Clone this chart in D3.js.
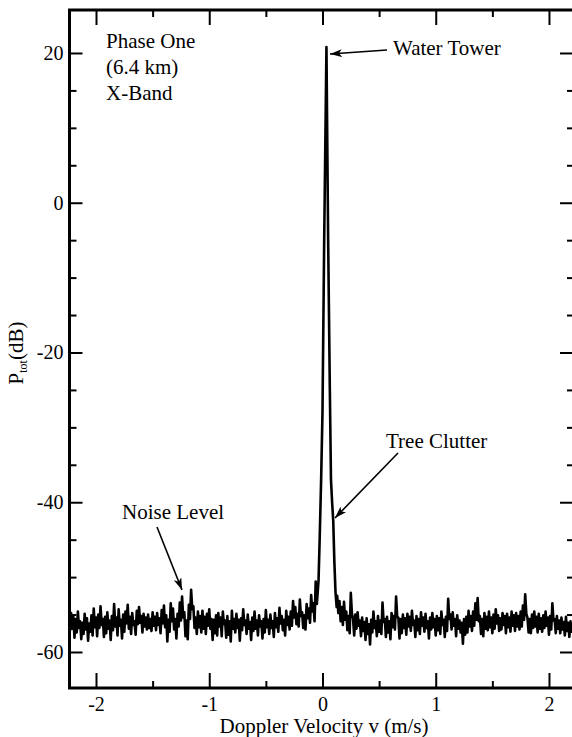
<!DOCTYPE html>
<html>
<head>
<meta charset="utf-8">
<script src="https://cdn.jsdelivr.net/npm/d3@7/dist/d3.min.js"></script>
<style>
  html, body { margin: 0; padding: 0; background: #fff; }
  svg { display: block; }
  text { font-family: "Liberation Serif", "Tinos", "Times New Roman", Times, serif; fill: #000; }
</style>
</head>
<body>
<svg id="chart" width="572" height="737"></svg>
<script>
// ---- data ----
// left noise floor: velocities -2.24 .. -0.05, step 0.01
const leftNoiseStart = -2.24;
const leftNoise = [
  -55.0,-57.2,-54.8,-56.9,-55.3,-58.1,-55.6,-57.4,-54.6,-56.8,-55.9,-58.3,-56.1,-57.6,-54.9,-57.0,-55.5,-58.5,-56.2,-57.3,
  -55.1,-57.8,-54.2,-56.7,-55.4,-57.9,-55.0,-56.8,-53.9,-56.4,-55.6,-58.0,-55.3,-57.5,-54.7,-56.9,-55.8,-58.4,-55.2,-57.1,
  -53.6,-56.6,-55.4,-57.8,-54.3,-56.5,-55.7,-58.2,-55.0,-57.3,-54.6,-56.2,-53.7,-56.9,-55.3,-57.6,-54.8,-56.4,-55.9,-57.7,
  -54.5,-56.3,-54.0,-56.1,-55.2,-57.4,-54.9,-56.6,-55.4,-57.0,-55.0,-56.8,-55.6,-57.2,-54.7,-56.5,-55.3,-57.1,-54.8,-56.4,
  -55.5,-57.5,-54.4,-56.2,-53.8,-56.7,-55.1,-58.6,-55.7,-57.3,-53.5,-55.9,-54.2,-57.0,-55.6,-58.2,-54.9,-56.6,-53.4,-55.8,
  -52.6,-55.4,-54.7,-57.9,-55.8,-58.3,-53.7,-55.6,-51.7,-54.3,-53.9,-56.8,-55.4,-57.6,-54.6,-56.7,-55.2,-57.4,-54.5,-56.9,
  -55.3,-57.6,-54.9,-56.5,-54.3,-56.9,-55.6,-58.4,-55.7,-57.5,-55.1,-57.8,-54.8,-56.6,-55.4,-57.9,-54.6,-56.3,-55.8,-58.1,
  -55.2,-57.7,-55.9,-58.6,-54.5,-56.9,-55.6,-57.4,-54.9,-56.8,-55.7,-58.5,-55.5,-57.1,-54.3,-56.4,-55.8,-57.6,-55.0,-56.9,
  -56.0,-58.4,-55.4,-57.2,-54.6,-56.9,-55.8,-57.8,-55.1,-56.6,-55.9,-58.2,-55.6,-57.4,-54.4,-56.7,-55.7,-57.6,-55.0,-56.8,
  -55.9,-58.0,-54.8,-56.7,-55.5,-57.3,-54.1,-56.2,-55.2,-57.1,-55.7,-57.8,-54.5,-56.4,-55.3,-57.0,-54.6,-56.5,-53.2,-55.4,
  -54.0,-56.3,-54.9,-56.6,-53.0,-55.2,-54.7,-56.8,-55.1,-57.0,-53.6,-55.5,-54.2,-56.1,-52.4,-54.6,-53.5,-55.9,-50.6,-53.6
];
// central peak (water tower + tree clutter): velocity and dB
const peakV = [-0.035,-0.025,-0.012,0.000,0.015,0.035,0.050,0.065,0.075,0.085,0.095,0.105,0.115,0.125];
const peakP = [-50.5,-45.0,-37.0,-28.0,-5.0,20.8,-5.0,-25.0,-37.0,-40.0,-42.5,-48.0,-52.0,-54.0];
// right noise floor: velocities 0.13 .. 2.21, step 0.01
const rightNoiseStart = 0.13;
const rightNoise = [
  -52.5,-54.8,-53.2,-55.9,-54.0,-56.4,-53.3,-55.7,-54.6,-57.1,-55.2,-57.5,-52.1,-54.9,-55.6,-57.8,-55.0,-56.9,-54.7,-56.5,
  -55.8,-57.9,-55.4,-57.2,-56.0,-58.4,-55.5,-57.6,-56.3,-59.0,-55.7,-57.4,-54.6,-56.8,-55.9,-57.9,-55.2,-57.3,-55.8,-57.6,
  -53.4,-56.0,-55.6,-58.0,-55.3,-57.4,-55.9,-58.3,-54.8,-56.7,-55.2,-57.0,-52.6,-55.3,-55.4,-58.2,-55.6,-57.5,-55.0,-56.8,
  -55.5,-57.7,-54.9,-56.6,-55.3,-57.2,-54.5,-56.4,-55.8,-58.0,-55.2,-57.1,-55.6,-57.6,-54.7,-56.5,-55.4,-57.3,-54.9,-56.8,
  -55.9,-58.2,-55.4,-57.0,-54.8,-56.7,-55.6,-57.8,-55.2,-57.1,-55.5,-57.6,-54.6,-56.4,-55.7,-58.0,-55.3,-57.2,-52.9,-55.6,
  -55.0,-57.0,-54.7,-56.5,-55.6,-57.9,-55.1,-56.9,-55.8,-57.4,-56.1,-58.9,-55.6,-57.7,-55.3,-57.4,-54.5,-56.6,-55.2,-57.2,
  -54.6,-56.5,-53.5,-55.7,-52.8,-55.9,-55.2,-57.6,-55.6,-57.9,-54.8,-56.9,-55.3,-57.1,-54.6,-56.7,-55.4,-57.5,-55.0,-56.9,
  -54.3,-56.2,-55.1,-57.2,-55.5,-57.0,-54.8,-56.4,-55.2,-57.5,-54.9,-56.7,-55.4,-57.3,-54.6,-56.5,-55.1,-57.2,-54.8,-56.6,
  -55.2,-57.0,-54.6,-56.6,-53.8,-55.7,-52.3,-54.9,-55.4,-57.4,-55.6,-57.5,-55.0,-56.8,-54.6,-56.6,-55.3,-57.4,-54.9,-56.9,
  -55.5,-57.3,-55.1,-56.8,-54.6,-56.5,-55.4,-57.7,-55.2,-57.0,-53.5,-55.8,-55.6,-57.5,-55.2,-56.9,-55.8,-57.5,-55.4,-57.0,
  -56.0,-57.8,-55.3,-57.2,-56.1,-58.0,-55.9,-57.3,-56.4
];
const noiseStep = 0.01;

const xMajor = [-2, -1, 0, 1, 2];
const xMinor = [-1.5, -0.5, 0.5, 1.5];
const yMajor = [20, 0, -20, -40, -60];
const yMinor = [15, 10, 5, -5, -10, -15, -25, -30, -35, -45, -50, -55];

const infoLines = ["Phase One", "(6.4 km)", "X-Band"];
const xTitle = "Doppler Velocity v (m/s)";

// ---- build series ----
const series = [];
leftNoise.forEach((p, i) => series.push([leftNoiseStart + i * noiseStep, p]));
peakV.forEach((v, i) => series.push([v, peakP[i]]));
rightNoise.forEach((p, i) => series.push([rightNoiseStart + i * noiseStep, p]));

// ---- layout ----
const svg = d3.select("#chart");
const L = 69.5, R = 574, T = 10, B = 688;
const x = d3.scaleLinear().domain([-2.234, 2.221]).range([L, R]);
const y = d3.scaleLinear().domain([25.74, -64.81]).range([T, B]);
const fmt = d => String(d);

svg.append("clipPath").attr("id", "clip")
  .append("rect").attr("x", L).attr("y", T).attr("width", R - L).attr("height", B - T);

// data line
svg.append("path")
  .datum(series)
  .attr("clip-path", "url(#clip)")
  .attr("fill", "none")
  .attr("stroke", "#000")
  .attr("stroke-width", 2.6)
  .attr("stroke-linejoin", "round")
  .attr("d", d3.line().x(d => x(d[0])).y(d => y(d[1])));

function styleAxis(g) {
  g.attr("font-family", null).attr("font-size", null);
  g.select(".domain").remove();
  g.selectAll(".tick line").attr("stroke", "#000").attr("stroke-width", 2);
  g.selectAll(".tick text").attr("font-size", 20);
}

// bottom axis
svg.append("g").attr("transform", `translate(0,${B})`)
  .call(d3.axisBottom(x).tickValues(xMajor).tickSize(-15).tickPadding(9).tickFormat(fmt))
  .call(styleAxis);
svg.append("g").attr("transform", `translate(0,${B})`)
  .call(d3.axisBottom(x).tickValues(xMinor).tickSize(-7).tickFormat(""))
  .call(styleAxis);
// top axis
svg.append("g").attr("transform", `translate(0,${T})`)
  .call(d3.axisTop(x).tickValues(xMajor).tickSize(-15).tickFormat(""))
  .call(styleAxis);
svg.append("g").attr("transform", `translate(0,${T})`)
  .call(d3.axisTop(x).tickValues(xMinor).tickSize(-7).tickFormat(""))
  .call(styleAxis);
// left axis
svg.append("g").attr("transform", `translate(${L},0)`)
  .call(d3.axisLeft(y).tickValues(yMajor).tickSize(-13).tickPadding(6).tickFormat(fmt))
  .call(styleAxis);
svg.append("g").attr("transform", `translate(${L},0)`)
  .call(d3.axisLeft(y).tickValues(yMinor).tickSize(-7).tickFormat(""))
  .call(styleAxis);
// right axis
svg.append("g").attr("transform", `translate(${R},0)`)
  .call(d3.axisRight(y).tickValues(yMajor).tickSize(-14).tickFormat(""))
  .call(styleAxis);
svg.append("g").attr("transform", `translate(${R},0)`)
  .call(d3.axisRight(y).tickValues(yMinor).tickSize(-7).tickFormat(""))
  .call(styleAxis);

// frame
svg.append("rect").attr("x", L).attr("y", T).attr("width", R - L).attr("height", B - T)
  .attr("fill", "none").attr("stroke", "#000").attr("stroke-width", 3);

// axis titles
svg.append("text").attr("x", 324).attr("y", 733).attr("text-anchor", "middle")
  .attr("font-size", 21).text(xTitle);
const yt = svg.append("text").attr("transform", "translate(23,353) rotate(-90)")
  .attr("text-anchor", "middle").attr("font-size", 21);
yt.append("tspan").text("P");
yt.append("tspan").attr("font-size", 12).attr("dy", 4).text("tot");
yt.append("tspan").attr("dy", -4).text("(dB)");

// info text
infoLines.forEach((s, i) => {
  svg.append("text").attr("x", 106).attr("y", 48 + i * 26).attr("font-size", 21).text(s);
});

// arrow marker
svg.append("defs").append("marker")
  .attr("id", "arr").attr("viewBox", "0 0 12 8").attr("refX", 12).attr("refY", 4)
  .attr("markerWidth", 12).attr("markerHeight", 8).attr("markerUnits", "userSpaceOnUse")
  .attr("orient", "auto")
  .append("path").attr("d", "M0,0 L12,4 L0,8 L3,4 Z").attr("fill", "#000");

const notes = [
  { text: "Water Tower", tx: 393, ty: 55, from: [387, 50], to: [330, 54] },
  { text: "Tree Clutter", tx: 386, ty: 448, from: [398, 453], to: [335, 518] },
  { text: "Noise Level", tx: 122, ty: 519, from: [157, 527], to: [182, 590] }
];
notes.forEach(n => {
  svg.append("text").attr("x", n.tx).attr("y", n.ty).attr("font-size", 21).text(n.text);
  svg.append("line").attr("x1", n.from[0]).attr("y1", n.from[1])
    .attr("x2", n.to[0]).attr("y2", n.to[1])
    .attr("stroke", "#000").attr("stroke-width", 1.6).attr("marker-end", "url(#arr)");
});
</script>
</body>
</html>
